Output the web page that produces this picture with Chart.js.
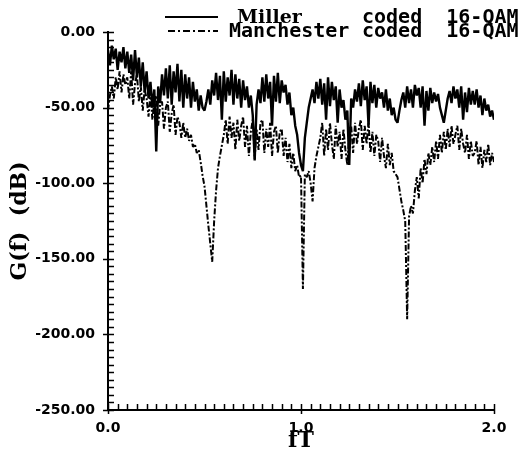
<!DOCTYPE html>
<html>
<head>
<meta charset="utf-8">
<script src="https://cdn.jsdelivr.net/npm/chart.js@4.4.1/dist/chart.umd.min.js"></script>
<style>
  html, body { margin: 0; padding: 0; background: #fff; }
  #psdChart { display: block; }
</style>
</head>
<body>
<canvas id="psdChart" width="520" height="454"></canvas>
<script>
const fTStep = 0.01;

const millerDb = [
  -12, -22, -9, -18, -11, -25, -13, -20, -10, -24,
  -13, -27, -15, -32, -12, -30, -17, -36, -20, -40,
  -26, -44, -33, -50, -38, -79, -36, -47, -28, -42,
  -24, -44, -22, -48, -26, -40, -21, -46, -25, -50,
  -28, -44, -30, -50, -33, -46, -38, -52, -42, -50,
  -52, -46, -38, -48, -32, -42, -27, -45, -29, -58,
  -26, -46, -30, -42, -25, -48, -28, -44, -31, -50,
  -32, -45, -36, -50, -42, -55, -85, -48, -38, -47,
  -30, -46, -28, -44, -33, -62, -29, -46, -27, -47,
  -32, -40, -35, -48, -40, -55, -50, -62, -68, -80,
  -88, -92, -70, -60, -50, -44, -38, -47, -33, -44,
  -31, -48, -34, -58, -30, -49, -33, -45, -36, -60,
  -38, -50, -45, -58, -52, -88, -44, -50, -38, -46,
  -34, -49, -32, -45, -36, -62, -33, -47, -35, -50,
  -37, -44, -40, -50, -38, -52, -44, -55, -50, -58,
  -60, -52, -45, -40, -50, -36, -47, -38, -50, -35,
  -42, -37, -50, -36, -62, -39, -52, -37, -47, -40,
  -46, -41, -50, -55, -60, -52, -44, -39, -47, -36,
  -44, -38, -50, -36, -58, -40, -53, -37, -48, -39,
  -48, -38, -50, -42, -55, -44, -52, -48, -56, -52,
  -58
];

const manchesterDb = [
  -52, -42, -36, -44, -30, -38, -26, -40, -28, -35,
  -30, -44, -26, -48, -34, -28, -46, -36, -52, -38,
  -44, -56, -40, -58, -46, -42, -62, -48, -46, -64,
  -50, -46, -66, -54, -48, -68, -56, -60, -70, -60,
  -70, -64, -72, -68, -76, -74, -80, -78, -86, -95,
  -102, -115, -128, -140, -152, -125, -105, -90, -82, -75,
  -68, -58, -74, -56, -70, -60, -78, -58, -72, -62,
  -56, -76, -62, -82, -66, -58, -84, -64, -78, -60,
  -58, -80, -64, -76, -60, -82, -66, -62, -80, -66,
  -64, -82, -70, -86, -74, -90, -80, -92, -88, -96,
  -95, -170, -94, -96, -92, -100, -112, -90, -82, -76,
  -70, -60, -82, -64, -78, -60, -74, -84, -62, -76,
  -66, -84, -64, -78, -88, -68, -62, -80, -60, -74,
  -64, -58, -78, -62, -74, -60, -80, -66, -82, -68,
  -72, -86, -70, -82, -90, -74, -88, -80, -92, -94,
  -96, -104, -112, -118, -125, -190, -122, -115, -120, -105,
  -96, -110, -90, -100, -84, -94, -80, -88, -76, -86,
  -72, -84, -68, -80, -66, -78, -64, -76, -62, -74,
  -68, -62, -78, -64, -74, -80, -68, -84, -72, -82,
  -80, -72, -88, -76, -90, -78, -86, -74, -88, -80,
  -86
];

const seriesNames = ["Miller", "Manchester"];
const legendSuffix = "coded  16-QAM";
const xTitle = "fT";
const yTitle = "G(f)  (dB)";

function toPoints(values) {
  return values.map((v, i) => ({ x: +(i * fTStep).toFixed(2), y: v }));
}

const tickFont = { family: "DejaVu Sans", weight: "bold", size: 14 };
const titleFont = { family: "DejaVu Serif", weight: "bold", size: 22 };

// inward minor ticks like the original plotter output
const axisTicks = {
  id: "axisTicks",
  afterDraw(chart) {
    const { ctx, scales: { x, y }, chartArea: a } = chart;
    ctx.save();
    ctx.strokeStyle = "#000";
    ctx.lineWidth = 1.5;
    ctx.beginPath();
    for (let v = -250; v <= 0; v += 5) {
      const py = Math.round(y.getPixelForValue(v)) + 0.5;
      const major = v % 50 === 0;
      ctx.moveTo(a.left - (major ? 5 : 0), py);
      ctx.lineTo(a.left + 6, py);
    }
    for (let i = 0; i <= 40; i++) {
      const px = Math.round(x.getPixelForValue(i * 0.05)) + 0.5;
      ctx.moveTo(px, a.bottom + (i % 20 === 0 ? 4 : 0));
      ctx.lineTo(px, a.bottom - 6);
    }
    ctx.stroke();
    ctx.restore();
  }
};

// two-line legend in the top right corner
const legendBox = {
  id: "legendBox",
  afterDraw(chart) {
    const ctx = chart.ctx;
    ctx.save();
    ctx.strokeStyle = "#000";
    ctx.fillStyle = "#000";
    ctx.lineWidth = 1.8;
    ctx.beginPath();
    ctx.moveTo(165, 17);
    ctx.lineTo(218, 17);
    ctx.stroke();
    ctx.setLineDash([7, 3, 2, 3]);
    ctx.beginPath();
    ctx.moveTo(168, 31);
    ctx.lineTo(218, 31);
    ctx.stroke();
    ctx.setLineDash([]);
    ctx.textBaseline = "alphabetic";
    ctx.textAlign = "left";
    ctx.font = "bold 19px 'DejaVu Serif'";
    ctx.fillText(seriesNames[0], 237, 23);
    ctx.font = "bold 20px 'DejaVu Sans Mono'";
    ctx.fillText(seriesNames[1], 229, 37);
    ctx.fillText(legendSuffix, 362, 23);
    ctx.fillText(legendSuffix, 362, 37);
    ctx.restore();
  }
};

const psdChart = new Chart(document.getElementById("psdChart"), {
  type: "line",
  data: {
    datasets: [
      {
        label: seriesNames[0] + " " + legendSuffix,
        data: toPoints(millerDb),
        borderColor: "#000",
        borderWidth: 2.4,
        borderJoinStyle: "bevel",
        pointRadius: 0,
        tension: 0
      },
      {
        label: seriesNames[1] + " " + legendSuffix,
        data: toPoints(manchesterDb),
        borderColor: "#000",
        borderWidth: 2,
        borderJoinStyle: "bevel",
        borderDash: [6, 2, 2, 2],
        pointRadius: 0,
        tension: 0
      }
    ]
  },
  options: {
    responsive: false,
    animation: false,
    layout: { padding: { top: 32, right: 26, left: 0, bottom: 0 } },
    plugins: {
      legend: { display: false },
      tooltip: { enabled: false }
    },
    scales: {
      x: {
        type: "linear",
        min: 0,
        max: 2,
        border: { color: "#000", width: 2 },
        grid: { drawOnChartArea: false, drawTicks: false },
        ticks: {
          stepSize: 1,
          color: "#000",
          font: tickFont,
          padding: 10,
          maxRotation: 0,
          callback: (v) => v.toFixed(1)
        },
        title: {
          display: true,
          text: xTitle,
          color: "#000",
          font: titleFont,
          padding: { top: 0, bottom: 0 }
        },
        afterFit: (s) => { s.height = 44; }
      },
      y: {
        min: -250,
        max: 0,
        border: { color: "#000", width: 2 },
        grid: { drawOnChartArea: false, drawTicks: false },
        ticks: {
          stepSize: 50,
          color: "#000",
          font: tickFont,
          padding: 13,
          callback: (v) => v.toFixed(2)
        },
        title: {
          display: true,
          text: yTitle,
          color: "#000",
          font: titleFont,
          padding: { top: 7, bottom: 0 }
        },
        afterFit: (s) => { s.width = 108; }
      }
    }
  },
  plugins: [axisTicks, legendBox]
});
</script>
</body>
</html>
